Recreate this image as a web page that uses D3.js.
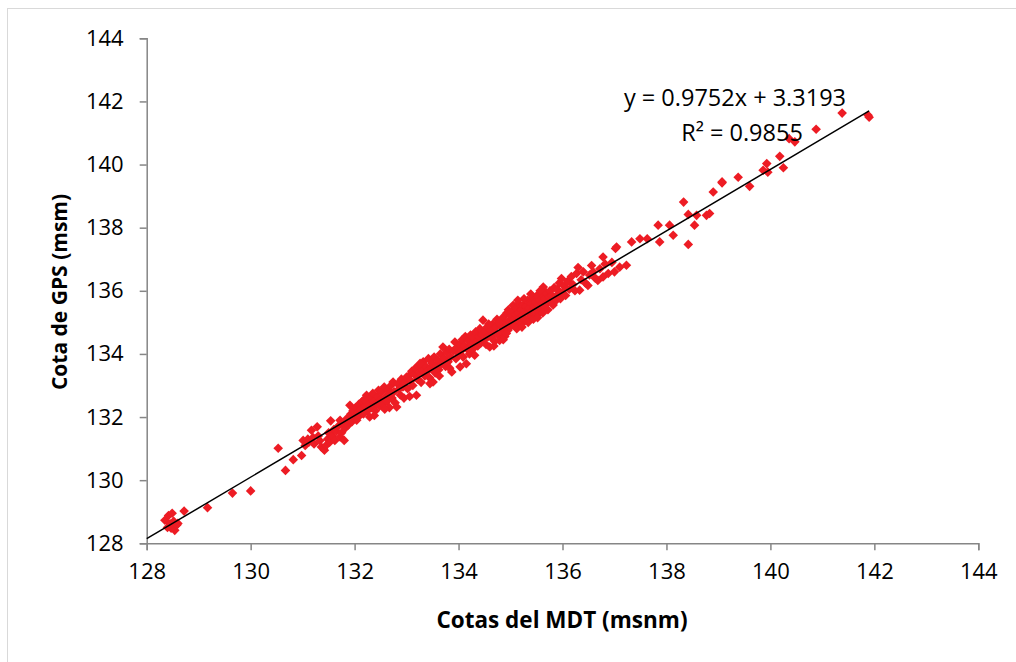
<!DOCTYPE html>
<head>
  <title>Cota GPS vs MDT</title>
  <meta charset="utf-8">
  <script type="text/javascript" src="https://cdn.jsdelivr.net/npm/d3@7"></script>
  <style>
    body { margin: 0; background: #fff; }
    text { font-family: "Open Sans", "Noto Sans", sans-serif; fill: #000; }
  </style>
</head>
<body>
<script>
// ticks of both axes
var xTicks = [128, 130, 132, 134, 136, 138, 140, 142, 144];
var yTicks = [128, 130, 132, 134, 136, 138, 140, 142, 144];

// linear trend (Excel)
var pendiente = 0.9752, ordenada = 3.3193;
var trendRange = [128, 141.9];
var ecuacion = "y = 0.9752x + 3.3193";
var r2 = "R² = 0.9855";

// [cota MDT, cota GPS]
var puntosBajos = [
  [128.35,128.73],[128.42,128.88],[128.49,128.95],[128.45,128.62],[128.54,128.41],[128.5,128.52],
  [128.6,128.63],[128.52,128.7],[128.47,128.48],[128.58,128.58],[128.4,128.5],[128.72,129.02],
  [129.17,129.13],[129.65,129.59],[130.0,129.66],[130.53,131.01],[130.67,130.31],[130.82,130.65],[130.98,130.78]
];
var puntos131 = [
  [131.01,131.26],[131.05,131.1],[131.1,131.3],[131.12,131.2],[131.17,131.58],[131.2,131.35],[131.22,131.15],
  [131.28,131.69],[131.3,131.4],[131.33,131.25],[131.36,131.05],[131.4,131.0],[131.42,130.95],[131.45,131.1],
  [131.48,131.3],[131.5,131.5],[131.52,131.2],[131.54,131.88],[131.57,131.4],[131.6,131.6],[131.62,131.26],
  [131.65,131.55],[131.68,131.7],[131.72,131.37],[131.72,131.9],[131.75,131.5],[131.78,131.8],[131.8,131.26],
  [131.82,131.65],[131.85,131.95],[131.88,131.75],[131.91,132.37],[131.93,132.1],[131.95,131.85],[131.97,132.2],[132.0,132.0]
];
var puntos132 = [
  [132.02,132.3],[132.04,131.9],[132.06,132.15],[132.08,132.4],[132.1,132.05],[132.12,132.25],[132.15,132.5],
  [132.17,132.1],[132.2,132.35],[132.23,132.69],[132.25,132.2],[132.27,132.45],[132.29,132.0],[132.31,132.6],
  [132.33,132.3],[132.35,132.75],[132.37,132.5],[132.4,132.2],[132.42,132.43],[132.44,132.65],[132.46,132.85],
  [132.48,132.35],[132.5,132.55],[132.52,132.8],[132.55,132.4],[132.57,132.95],[132.6,132.65],[132.62,132.5],
  [132.65,132.85],[132.67,132.3],[132.7,133.0],[132.72,132.6],[132.74,133.11],[132.76,132.8],[132.78,132.45],
  [132.81,132.32],[132.83,133.05],[132.86,132.9],[132.88,132.7],[132.9,133.2],[132.93,132.95],[132.95,132.6],
  [132.97,133.1],[133.0,133.27],[132.18,132.55],[132.38,132.05],[132.58,132.25],[132.68,132.75]
];
var puntos133 = [
  [133.02,132.9],[133.04,133.3],[133.06,132.65],[133.08,133.15],[133.1,133.45],[133.12,133.0],[133.15,133.35],
  [133.17,133.55],[133.19,132.69],[133.21,133.2],[133.23,133.6],[133.25,133.4],[133.28,133.1],[133.3,133.5],
  [133.32,133.75],[133.35,133.3],[133.37,133.6],[133.4,133.45],[133.42,133.85],[133.45,133.06],[133.47,133.55],
  [133.49,133.7],[133.51,133.11],[133.53,133.9],[133.55,133.4],[133.58,133.65],[133.6,133.8],[133.62,133.5],
  [133.65,134.0],[133.67,133.7],[133.7,134.22],[133.72,133.85],[133.75,133.6],[133.77,134.05],[133.8,133.75],
  [133.82,134.15],[133.85,133.9],[133.87,133.43],[133.9,134.1],[133.93,134.38],[133.95,133.85],[133.97,134.2],[134.0,134.0],
  [133.26,133.7],[133.44,133.25],[133.63,133.3],[133.83,133.55]
];
var puntos134 = [
  [134.02,134.3],[134.03,133.59],[134.05,134.1],[134.07,134.45],[134.09,133.9],[134.11,134.25],[134.13,134.55],
  [134.15,133.69],[134.17,134.15],[134.19,134.4],[134.21,134.0],[134.23,134.6],[134.25,134.3],[134.27,134.15],
  [134.29,134.5],[134.31,133.96],[134.33,134.7],[134.35,134.4],[134.37,134.25],[134.39,134.55],[134.41,134.8],
  [134.43,134.35],[134.45,134.6],[134.47,135.07],[134.49,134.45],[134.51,134.7],[134.53,134.3],[134.55,134.85],
  [134.57,134.55],[134.6,134.22],[134.62,134.75],[134.64,134.5],[134.66,134.95],[134.68,134.65],[134.7,134.4],
  [134.72,134.85],[134.74,135.1],[134.76,134.6],[134.79,134.43],[134.81,134.9],[134.83,134.7],[134.85,135.15],
  [134.87,134.8],[134.89,134.55],[134.91,135.0],[134.93,135.3],[134.95,134.75],[134.97,135.05],[134.99,134.85],[135.0,135.2],
  [134.58,134.95],[134.68,134.25],[134.78,135.0],[134.86,134.45],[134.92,134.65],[134.96,135.4]
];
var puntos135 = [
  [135.02,134.95],[135.03,135.35],[135.05,135.54],[135.06,135.1],[135.08,134.9],[135.1,135.25],[135.11,135.45],
  [135.13,135.05],[135.15,135.3],[135.16,135.6],[135.18,135.15],[135.2,134.95],[135.21,135.4],[135.23,135.2],
  [135.25,135.55],[135.27,135.35],[135.28,135.05],[135.3,135.5],[135.31,135.07],[135.33,135.7],[135.35,135.3],
  [135.36,135.45],[135.38,135.15],[135.4,135.6],[135.41,135.35],[135.43,135.8],[135.45,135.5],[135.46,135.25],
  [135.48,135.65],[135.5,135.4],[135.51,135.85],[135.53,135.55],[135.55,135.3],[135.56,135.7],[135.58,135.45],
  [135.6,135.9],[135.61,135.6],[135.63,136.12],[135.65,135.5],[135.66,135.75],[135.68,135.95],[135.7,135.6],
  [135.72,135.4],[135.74,135.8],[135.76,136.0],[135.78,135.65],[135.8,135.85],[135.82,135.55],[135.84,136.1],
  [135.86,135.8],[135.88,135.7],[135.9,136.05],[135.92,135.9],[135.94,136.25],[135.96,135.75],[135.98,136.39],[136.0,135.95],
  [135.12,134.8],[135.22,134.85],[135.34,135.0],[135.44,135.1],[135.52,135.15],[135.62,135.3],[135.26,135.75],
  [135.14,135.7],[135.39,135.9],[135.57,136.0]
];
var puntosAltos = [
  [136.03,136.15],[136.06,135.85],[136.1,136.3],[136.13,136.05],[136.17,136.45],[136.2,136.2],[136.24,136.0],
  [136.27,136.55],[136.3,136.74],[136.33,136.02],[136.36,136.35],[136.4,136.6],[136.44,136.25],[136.49,136.17],
  [136.52,136.5],[136.56,136.8],[136.59,136.6],[136.63,136.4],[136.68,136.33],[136.72,136.7],[136.78,137.07],
  [136.78,136.44],[136.82,136.85],[136.88,136.55],[136.95,136.9],[137.0,136.6],[137.02,137.34],[137.04,137.39],
  [137.1,136.75],[137.23,136.81],[137.33,137.55],[137.49,137.65],[137.63,137.65],[137.84,138.08],[137.87,137.55],
  [138.06,138.08],[138.13,137.76],[138.33,138.81],[138.42,137.47],[138.42,138.42],[138.54,138.08],[138.58,138.39],
  [138.77,138.39],[138.83,138.45],[138.9,139.13],[139.07,139.42],[139.07,139.45],[139.38,139.6],[139.6,139.31],
  [139.86,139.82],[139.93,140.03],[139.95,139.76],[140.18,140.26],[140.25,139.9],[140.36,140.82],[140.47,140.72],
  [140.88,141.12],[141.38,141.63],[141.88,141.56],[141.9,141.5]
];

var puntos = puntosBajos.concat(puntos131, puntos132, puntos133, puntos134, puntos135, puntosAltos);

var W = 1016, H = 662;
var margin = {top: 38.3, right: 37.7, bottom: 118.7, left: 146.7};

var svg = d3.select("body").append("svg")
  .attr("width", W)
  .attr("height", H);

// chart area border (only top/left visible in the crop)
svg.append("rect")
  .attr("x", 7.5).attr("y", 8.5)
  .attr("width", 1030).attr("height", 680)
  .attr("fill", "none")
  .attr("stroke", "#d9d9d9");

var x = d3.scaleLinear().domain([128, 144]).range([margin.left, W - margin.right]);
var y = d3.scaleLinear().domain([128, 144]).range([H - margin.bottom, margin.top]);

var xAxis = svg.append("g")
  .attr("transform", "translate(0," + y(128) + ")")
  .call(d3.axisBottom(x).tickValues(xTicks).tickSize(7).tickPadding(8).tickFormat(d3.format("d")));

var yAxis = svg.append("g")
  .attr("transform", "translate(" + x(128) + ",0)")
  .call(d3.axisLeft(y).tickValues(yTicks).tickSize(7).tickPadding(16).tickFormat(d3.format("d")));

[xAxis, yAxis].forEach(function(g) {
  g.select(".domain").attr("stroke", "#868686").attr("stroke-width", 1.5);
  g.selectAll(".tick line").attr("stroke", "#868686").attr("stroke-width", 1.5);
  g.selectAll(".tick text")
    .style("font-family", "'Open Sans', sans-serif")
    .style("font-size", "22px")
    .attr("fill", "#000");
});
xAxis.selectAll(".tick text").attr("dy", "0.95em");

// points
var diamante = "M0,-4.8L4.8,0L0,4.8L-4.8,0Z";
svg.append("g").selectAll("path")
  .data(puntos)
  .enter()
  .append("path")
  .attr("d", diamante)
  .attr("transform", function(d) { return "translate(" + x(d[0]) + "," + y(d[1]) + ")"; })
  .attr("fill", "#ed1c24");

// trend line
svg.append("line")
  .attr("x1", x(trendRange[0]))
  .attr("y1", y(pendiente * trendRange[0] + ordenada))
  .attr("x2", x(trendRange[1]))
  .attr("y2", y(pendiente * trendRange[1] + ordenada))
  .attr("stroke", "#000")
  .attr("stroke-width", 1.5);

// equation
svg.append("text")
  .attr("x", 735).attr("y", 106)
  .attr("text-anchor", "middle")
  .style("font-size", "23.5px")
  .text(ecuacion);
svg.append("text")
  .attr("x", 742).attr("y", 141)
  .attr("text-anchor", "middle")
  .style("font-size", "23.5px")
  .text(r2);

// axis titles
svg.append("text")
  .attr("x", 562).attr("y", 628)
  .attr("text-anchor", "middle")
  .style("font-size", "22.5px")
  .style("font-weight", "bold")
  .text("Cotas del MDT (msnm)");

svg.append("text")
  .attr("transform", "translate(67,292) rotate(-90)")
  .attr("text-anchor", "middle")
  .style("font-size", "21px")
  .style("font-weight", "bold")
  .text("Cota de GPS (msm)");
</script>
</body>
